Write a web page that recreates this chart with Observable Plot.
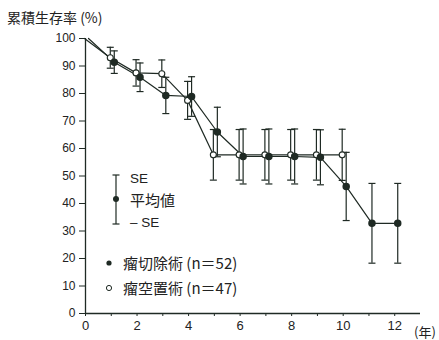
<!DOCTYPE html>
<html><head><meta charset="utf-8">
<script src="https://cdn.jsdelivr.net/npm/d3@7"></script>
<script src="https://cdn.jsdelivr.net/npm/@observablehq/plot@0.6"></script>
<style>
body{margin:0;background:#fff;}
#wrap{position:relative;width:439px;height:340px;font-family:"Liberation Sans",Arial,sans-serif;color:#222;}
#wrap svg{position:absolute;left:0;top:0;}
.t{position:absolute;white-space:nowrap;line-height:1;}
.jp{font-family:"Noto Sans CJK JP",sans-serif;}
</style></head><body>
<div id="wrap"></div>
<script>
// Data
const resectYears = [0,1,2,3,4,5,6,7,8,9,10,11,12];
const resectMean  = [100,91.4,85.9,79.3,78.9,66,57.1,57.1,57.1,56.8,46.2,32.8,32.8];
const resectSE    = [null,4.1,5.2,6.6,7.2,9,10,10,10,10,12.4,14.5,14.5];
const exclYears   = [0,1,2,3,4,5,6,7,8,9,10];
const exclMean    = [100,93,87.5,87.2,77.5,57.7,57.7,57.7,57.7,57.7,57.7];
const exclSE      = [null,3.8,4.8,5,6.9,9.2,9.2,9.2,9.2,9.2,9.3];
const yTicks = [0,10,20,30,40,50,60,70,80,90,100];
const xTicks = [0,1,2,3,4,5,6,7,8,9,10,11,12];
const titleText = "累積生存率 (%)";
const unitText = "(年)";
const legendSE = ["SE","平均値","– SE"];
const legendSeries = ["瘤切除術 (n＝52)","瘤空置術 (n＝47)"];

const ink = "#1f2a24";
const resect = resectYears.map((x,i)=>({x, m:resectMean[i], se:resectSE[i]}));
const excl = exclYears.map((x,i)=>({x, m:exclMean[i], se:exclSE[i]}));
const resectBars = resect.filter(d=>d.se!=null);
const exclBars = excl.filter(d=>d.se!=null);

const cap = {draw(ctx, size){ const r = Math.sqrt(size/Math.PI); ctx.moveTo(-r,0); ctx.lineTo(r,0); }};

function bars(data, dx){
  return [
    Plot.ruleX(data, {x:"x", y1:d=>d.m-d.se, y2:d=>d.m+d.se, dx, stroke:ink, strokeWidth:1.2}),
    Plot.dot(data, {x:"x", y:d=>d.m-d.se, dx, symbol:cap, r:3.5, stroke:ink, strokeWidth:1.2, fill:"none"}),
    Plot.dot(data, {x:"x", y:d=>d.m+d.se, dx, symbol:cap, r:3.5, stroke:ink, strokeWidth:1.2, fill:"none"})
  ];
}

const chart = Plot.plot({
  width:439, height:340,
  marginLeft:85, marginRight:19, marginTop:38, marginBottom:27,
  style:{fontFamily:"Liberation Sans, Arial, sans-serif", fontSize:"12px", color:"#222", background:"transparent", overflow:"visible"},
  x:{domain:[0,13]},
  y:{domain:[0,100]},
  marks:[
    Plot.axisY({ticks:yTicks, tickSize:6, tickPadding:4, label:null, stroke:ink, fontSize:12}),
    Plot.axisX({ticks:xTicks, tickSize:3, tickPadding:4, label:null, stroke:ink, fontSize:13, tickFormat:d=>d%2===0?String(d):""}),
    Plot.ruleX([0], {stroke:ink, strokeWidth:1.3}),
    Plot.ruleY([0], {stroke:ink, strokeWidth:1.3}),
    Plot.line(excl, {x:"x", y:"m", dx:-1, stroke:ink, strokeWidth:1.2}),
    Plot.line(resect, {x:"x", y:"m", dx:3, stroke:ink, strokeWidth:1.2}),
    ...bars(exclBars, -1),
    ...bars(resectBars, 3),
    Plot.dot(exclBars, {x:"x", y:"m", dx:-1, r:3, fill:"#fff", stroke:ink, strokeWidth:1.1}),
    Plot.dot(resectBars, {x:"x", y:"m", dx:3, r:3, fill:ink, stroke:ink})
  ]
});

const wrap = document.getElementById("wrap");
wrap.appendChild(chart);

function addText(txt, left, top, size, cls){
  const d = document.createElement("div");
  d.className = "t " + (cls||"");
  d.style.left = left+"px"; d.style.top = top+"px"; d.style.fontSize = size+"px";
  d.textContent = txt;
  wrap.appendChild(d);
}
addText(titleText, 7, 10, 14, "jp");
addText(unitText, 414, 325, 13, "jp");
addText(legendSE[0], 130, 172, 13.5, "");
addText(legendSE[1], 130, 192, 15, "jp");
addText(legendSE[2], 130, 216, 13.5, "");
addText(legendSeries[0], 123, 255, 15, "jp");
addText(legendSeries[1], 123, 280, 15, "jp");

// legend symbols
const ns = "http://www.w3.org/2000/svg";
const lg = document.createElementNS(ns, "svg");
lg.setAttribute("width", 439); lg.setAttribute("height", 340);
lg.style.pointerEvents = "none";
lg.innerHTML = `
<g stroke="${ink}" stroke-width="1.2" fill="none">
  <line x1="116" y1="175" x2="116" y2="224"/>
  <line x1="112.5" y1="175" x2="119.5" y2="175"/>
  <line x1="112.5" y1="224" x2="119.5" y2="224"/>
</g>
<circle cx="116" cy="199" r="3" fill="${ink}"/>
<circle cx="109" cy="263" r="2.6" fill="${ink}"/>
<circle cx="109" cy="288" r="2.6" fill="#fff" stroke="${ink}" stroke-width="1"/>`;
wrap.appendChild(lg);
</script>
</body></html>
